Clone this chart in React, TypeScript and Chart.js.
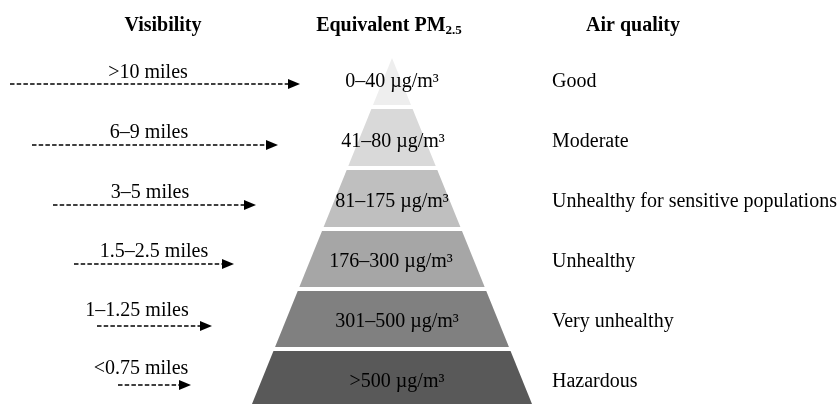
import React, { useEffect, useRef } from "react";
import { Chart, registerables } from "chart.js";

Chart.register(...registerables);

// ---- data ----
const headers = ["Visibility", "Equivalent PM", "Air quality"];
const headerX = [163, 389, 633];
const visibilityLabels = [">10 miles", "6–9 miles", "3–5 miles", "1.5–2.5 miles", "1–1.25 miles", "<0.75 miles"];
const visibilityLabelX = [148, 149, 150, 154, 137, 141];
const arrowStart = [10, 32, 53, 74, 97, 118];
const arrowEnd = [300, 278, 256, 234, 212, 191];
const pmLabels = ["0–40 µg/m³", "41–80 µg/m³", "81–175 µg/m³", "176–300 µg/m³", "301–500 µg/m³", ">500 µg/m³"];
const pmLabelX = [392, 393, 392, 391, 397, 397];
const airQuality = ["Good", "Moderate", "Unhealthy for sensitive populations", "Unhealthy", "Very unhealthy", "Hazardous"];
const tierTop = [58, 109, 170, 231, 291, 351];
const tierBottom = [105, 166, 227, 287, 347, 404];
const tierColors = ["#eeeeee", "#d9d9d9", "#bfbfbf", "#a6a6a6", "#808080", "#595959"];
const rowY = [82, 142, 202, 262, 322, 382];
const arrowY = [84, 145, 205, 264, 326, 385];
const visLabelY = [73, 133, 193, 252, 311, 369];
const apexX = 392;
const apexY = 58;
const baseY = 404;
const baseHalf = 140;

const SERIF = '"Liberation Serif", "Times New Roman", serif';

export default function App() {
  const ref = useRef<HTMLCanvasElement | null>(null);
  useEffect(() => {
    document.body.style.margin = "0";
    const canvas = ref.current!;
    const half = (y: number) => ((y - apexY) / (baseY - apexY)) * baseHalf;

    const diagramPlugin = {
      id: "diagram",
      beforeDatasetsDraw(chart: any) {
        const { ctx } = chart;
        const xs = chart.scales.x;
        const ys = chart.scales.y;
        ctx.save();
        tierTop.forEach((t, i) => {
          const b = tierBottom[i];
          const ht = half(t);
          const hb = half(b);
          ctx.beginPath();
          ctx.moveTo(xs.getPixelForValue(apexX - ht), ys.getPixelForValue(t));
          ctx.lineTo(xs.getPixelForValue(apexX + ht), ys.getPixelForValue(t));
          ctx.lineTo(xs.getPixelForValue(apexX + hb), ys.getPixelForValue(b));
          ctx.lineTo(xs.getPixelForValue(apexX - hb), ys.getPixelForValue(b));
          ctx.closePath();
          ctx.fillStyle = tierColors[i];
          ctx.fill();
        });
        ctx.restore();
      },
      afterDatasetsDraw(chart: any) {
        const { ctx } = chart;
        const xs = chart.scales.x;
        const ys = chart.scales.y;
        ctx.save();
        ctx.fillStyle = "#000";
        ctx.textBaseline = "middle";
        // headers
        ctx.font = `bold 20px ${SERIF}`;
        ctx.textAlign = "center";
        ctx.fillText(headers[0], xs.getPixelForValue(headerX[0]), ys.getPixelForValue(26));
        ctx.fillText(headers[2], xs.getPixelForValue(headerX[2]), ys.getPixelForValue(26));
        // PM2.5 with subscript
        const mainW = ctx.measureText(headers[1]).width;
        ctx.font = `bold 13px ${SERIF}`;
        const subW = ctx.measureText("2.5").width;
        const startX = xs.getPixelForValue(headerX[1]) - (mainW + subW) / 2;
        ctx.textAlign = "left";
        ctx.font = `bold 20px ${SERIF}`;
        ctx.fillText(headers[1], startX, ys.getPixelForValue(26));
        ctx.font = `bold 13px ${SERIF}`;
        ctx.fillText("2.5", startX + mainW, ys.getPixelForValue(31));

        // arrowheads
        arrowEnd.forEach((e, i) => {
          const px = xs.getPixelForValue(e);
          const py = ys.getPixelForValue(arrowY[i]);
          ctx.beginPath();
          ctx.moveTo(px, py);
          ctx.lineTo(px - 12, py - 5);
          ctx.lineTo(px - 12, py + 5);
          ctx.closePath();
          ctx.fill();
        });

        ctx.font = `20px ${SERIF}`;
        ctx.textAlign = "center";
        visibilityLabels.forEach((l, i) => {
          ctx.fillText(l, xs.getPixelForValue(visibilityLabelX[i]), ys.getPixelForValue(visLabelY[i]));
        });
        pmLabels.forEach((l, i) => {
          ctx.fillText(l, xs.getPixelForValue(pmLabelX[i]), ys.getPixelForValue(rowY[i]));
        });
        ctx.textAlign = "left";
        airQuality.forEach((l, i) => {
          ctx.fillText(l, xs.getPixelForValue(552), ys.getPixelForValue(rowY[i]));
        });
        ctx.restore();
      },
    };

    const datasets = arrowStart.map((s, i) => ({
      data: [
        { x: s, y: arrowY[i] },
        { x: arrowEnd[i] - 11, y: arrowY[i] },
      ],
      showLine: true,
      borderColor: "#000",
      borderWidth: 1.5,
      borderDash: [4.5, 2.2],
      pointRadius: 0,
      fill: false,
    }));

    const chart = new Chart(canvas, {
      type: "scatter",
      data: { datasets },
      options: {
        animation: false,
        responsive: false,
        devicePixelRatio: 1,
        layout: { padding: 0 },
        plugins: { legend: { display: false }, tooltip: { enabled: false }, title: { display: false } },
        scales: {
          x: { type: "linear", min: 0, max: 840, display: false },
          y: { type: "linear", min: 0, max: 404, reverse: true, display: false },
        },
      },
      plugins: [diagramPlugin],
    });
    return () => chart.destroy();
  }, []);
  return (
    <div style={{ width: 840, height: 404, background: "#fff" }}>
      <canvas ref={ref} width={840} height={404} />
    </div>
  );
}
